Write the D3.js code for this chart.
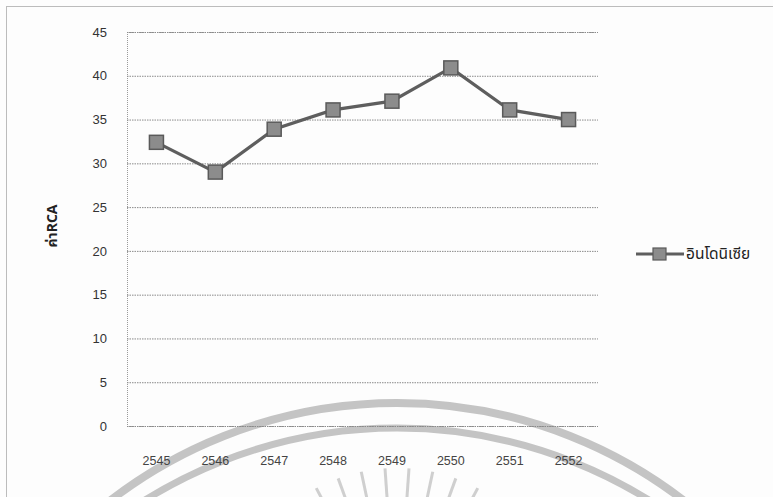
<!DOCTYPE html>
<html><head><meta charset="utf-8">
<script src="https://cdn.jsdelivr.net/npm/d3@7"></script>
<style>
html,body{margin:0;padding:0;background:#fdfdfd;}
svg{display:block;}
</style></head>
<body>
<script>
const categories = ["2545","2546","2547","2548","2549","2550","2551","2552"];
const values = [32.4, 29.0, 33.9, 36.1, 37.1, 40.9, 36.1, 35.0];
const yTicks = [0,5,10,15,20,25,30,35,40,45];
const seriesName = "อินโดนิเซีย";
const yTitle = "ค่าRCA";

const W = 773, H = 497;
const svg = d3.select("body").append("svg").attr("width", W).attr("height", H);
const font = "'Liberation Sans', Arial, 'Noto Sans', sans-serif";
const thaiFont = "'Noto Sans Thai', 'Noto Sans', 'DejaVu Sans', sans-serif";

// outer frame
svg.append("rect").attr("x",6.5).attr("y",6.5).attr("width",W+10).attr("height",H+10)
  .attr("fill","#fdfdfd").attr("stroke","#7a7a7a").attr("stroke-dasharray","1,1");

const plot = {left:127, right:598, top:32, bottom:426};
const x = d3.scaleBand().domain(categories).range([plot.left, plot.right]);
const y = d3.scaleLinear().domain([0,45]).range([plot.bottom, plot.top]);

// watermark arcs
const wm = svg.append("g").attr("fill","none").attr("stroke","#c4c4c4");
wm.append("circle").attr("cx",397).attr("cy",403+470).attr("r",470).attr("stroke-width",8);
wm.append("circle").attr("cx",397).attr("cy",428+476).attr("r",476).attr("stroke-width",7);
const rays = wm.append("g").attr("stroke","#cfcfcf").attr("stroke-width",3);
d3.range(-60, 61, 8).forEach(a => {
  const r = a*Math.PI/180, cx = 397, cy = 640;
  rays.append("line").attr("x1", cx + Math.sin(r)*135).attr("y1", cy - Math.cos(r)*135)
    .attr("x2", cx + Math.sin(r)*172).attr("y2", cy - Math.cos(r)*172);
});

// gridlines
const yAxis = d3.axisLeft(y).tickValues(yTicks).tickSize(-(plot.right-plot.left)).tickPadding(20);
const gy = svg.append("g").attr("transform",`translate(${plot.left},0)`).call(yAxis);
gy.select(".domain").attr("stroke","#9a9a9a").attr("stroke-dasharray","1,1");
gy.selectAll(".tick line").attr("stroke","#8a8a8a").attr("stroke-dasharray","1.5,1");
gy.selectAll(".tick text").attr("font-family",font).attr("font-size",13).attr("fill","#333");

// x labels
const xAxis = d3.axisBottom(x).tickSize(0).tickPadding(30);
const gx = svg.append("g").attr("transform",`translate(0,${plot.bottom})`).call(xAxis);
gx.select(".domain").remove();
gx.selectAll(".tick text").attr("font-family",font).attr("font-size",12.5).attr("fill","#444");

// y title
svg.append("text").attr("transform",`translate(57,226) rotate(-90)`)
  .attr("text-anchor","middle").attr("font-family",thaiFont).attr("font-size",14)
  .attr("font-weight","bold").attr("fill","#222").text(yTitle);

// line
const cx = d => x(d) + x.bandwidth()/2;
const line = d3.line().x((d,i)=>cx(categories[i])).y(d=>y(d));
svg.append("path").datum(values).attr("d",line).attr("fill","none")
  .attr("stroke","#5e5e5e").attr("stroke-width",3.2);

// markers
const ms = 14;
svg.append("g").selectAll("rect").data(values).join("rect")
  .attr("x",(d,i)=>cx(categories[i])-ms/2).attr("y",d=>y(d)-ms/2)
  .attr("width",ms).attr("height",ms)
  .attr("fill","#8c8c8c").attr("stroke","#5a5a5a").attr("stroke-width",1.5);

// legend
const lg = svg.append("g").attr("transform","translate(636,254)");
lg.append("line").attr("x1",0).attr("x2",48).attr("y1",0).attr("y2",0)
  .attr("stroke","#5e5e5e").attr("stroke-width",3);
lg.append("rect").attr("x",17).attr("y",-6).attr("width",13).attr("height",12)
  .attr("fill","#8c8c8c").attr("stroke","#5a5a5a").attr("stroke-width",1.2);
lg.append("text").attr("x",50).attr("y",5).attr("font-family",thaiFont)
  .attr("font-size",15.5).attr("fill","#222").text(seriesName);
</script>
</body></html>
